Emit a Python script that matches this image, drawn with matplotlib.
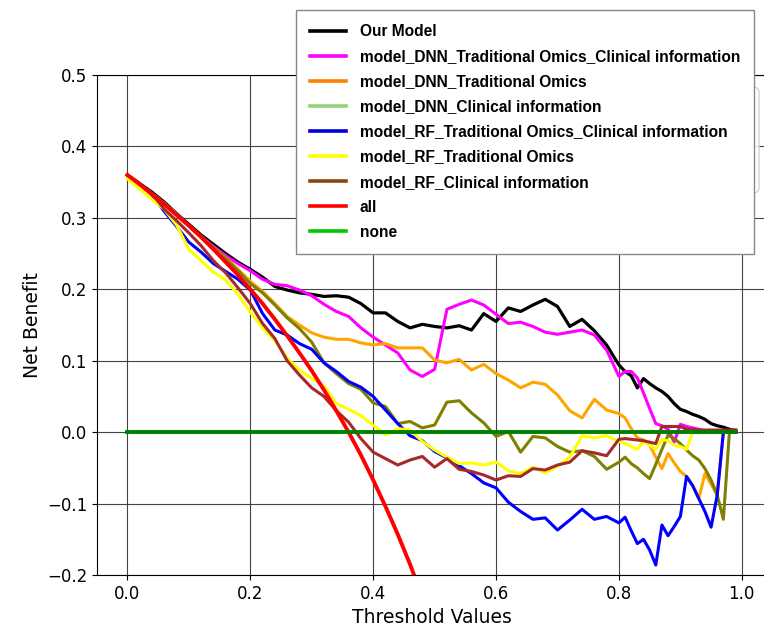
import matplotlib
matplotlib.use('Agg')
import matplotlib.pyplot as plt
from matplotlib.lines import Line2D
from matplotlib.patches import FancyBboxPatch

thresholds = [0.00, 0.02, 0.04, 0.06, 0.08, 0.10, 0.12, 0.14, 0.16, 0.18,
              0.20, 0.22, 0.24, 0.26, 0.28, 0.30, 0.32, 0.34, 0.36, 0.38,
              0.40, 0.42, 0.44, 0.46, 0.48, 0.50, 0.52, 0.54, 0.56, 0.58,
              0.60, 0.62, 0.64, 0.66, 0.68, 0.70, 0.72, 0.74, 0.76, 0.78,
              0.80, 0.81, 0.82, 0.83, 0.84, 0.85, 0.86, 0.87, 0.88, 0.89,
              0.90, 0.91, 0.92, 0.93, 0.94, 0.95, 0.96, 0.97, 0.98, 0.99]

our_model = [0.360, 0.348, 0.336, 0.322, 0.306, 0.291, 0.276, 0.263, 0.250, 0.238,
             0.228, 0.217, 0.204, 0.199, 0.195, 0.193, 0.190, 0.191, 0.189, 0.180,
             0.167, 0.167, 0.155, 0.146, 0.151, 0.148, 0.146, 0.149, 0.143, 0.166,
             0.155, 0.174, 0.169, 0.178, 0.186, 0.176, 0.148, 0.158, 0.142, 0.122,
             0.094, 0.085, 0.079, 0.062, 0.075, 0.068, 0.062, 0.057, 0.050, 0.040,
             0.032, 0.029, 0.025, 0.022, 0.018, 0.012, 0.009, 0.007, 0.004, 0.002]

dnn_omics_clin = [0.360, 0.347, 0.334, 0.320, 0.305, 0.289, 0.274, 0.260, 0.247, 0.236,
                  0.226, 0.214, 0.207, 0.205, 0.199, 0.191, 0.179, 0.169, 0.162, 0.146,
                  0.133, 0.122, 0.111, 0.087, 0.078, 0.088, 0.172, 0.179, 0.185, 0.178,
                  0.165, 0.152, 0.154, 0.148, 0.140, 0.137, 0.140, 0.143, 0.136, 0.115,
                  0.078, 0.085, 0.085, 0.076, 0.055, 0.033, 0.012, 0.009, 0.004, -0.014,
                  0.011, 0.008, 0.006, 0.004, 0.002, 0.002, 0.002, 0.002, 0.002, 0.002]

dnn_omics = [0.360, 0.347, 0.334, 0.320, 0.305, 0.289, 0.273, 0.258, 0.244, 0.228,
             0.211, 0.197, 0.180, 0.162, 0.150, 0.139, 0.133, 0.130, 0.130, 0.125,
             0.122, 0.124, 0.118, 0.118, 0.118, 0.101, 0.097, 0.102, 0.087, 0.095,
             0.082, 0.073, 0.062, 0.070, 0.067, 0.052, 0.030, 0.020, 0.046, 0.031,
             0.026, 0.020, 0.005, -0.008, -0.011, -0.018, -0.035, -0.051, -0.030, -0.043,
             -0.055, -0.062, -0.074, -0.093, -0.058, -0.073, -0.088, 0.000, 0.002, 0.003]

dnn_clin = [0.360, 0.347, 0.334, 0.320, 0.305, 0.289, 0.274, 0.258, 0.243, 0.226,
            0.208, 0.195, 0.178, 0.160, 0.145, 0.126, 0.097, 0.082, 0.068, 0.060,
            0.041, 0.036, 0.012, 0.015, 0.006, 0.010, 0.042, 0.044, 0.027, 0.013,
            -0.006, 0.001, -0.028, -0.006, -0.008, -0.020, -0.028, -0.026, -0.034, -0.052,
            -0.042, -0.035, -0.044, -0.050, -0.058, -0.065, -0.045, -0.024, -0.004, -0.009,
            -0.016, -0.025, -0.033, -0.039, -0.051, -0.067, -0.088, -0.122, 0.002, 0.003]

rf_omics_clin = [0.360, 0.348, 0.332, 0.309, 0.288, 0.266, 0.252, 0.236, 0.225, 0.214,
                 0.199, 0.166, 0.143, 0.136, 0.124, 0.116, 0.097, 0.085, 0.071, 0.063,
                 0.050, 0.031, 0.012, -0.005, -0.012, -0.027, -0.036, -0.047, -0.058, -0.071,
                 -0.078, -0.098, -0.111, -0.122, -0.120, -0.137, -0.123, -0.108, -0.122, -0.118,
                 -0.127, -0.119, -0.138, -0.156, -0.150, -0.165, -0.186, -0.130, -0.145, -0.132,
                 -0.118, -0.062, -0.075, -0.093, -0.111, -0.133, -0.088, 0.000, 0.002, 0.003]

rf_omics = [0.355, 0.340, 0.326, 0.312, 0.290, 0.256, 0.240, 0.224, 0.213, 0.193,
            0.168, 0.146, 0.128, 0.104, 0.087, 0.075, 0.065, 0.040, 0.032, 0.023,
            0.010, -0.004, 0.005, 0.003, -0.013, -0.025, -0.035, -0.044, -0.043, -0.046,
            -0.042, -0.054, -0.058, -0.049, -0.057, -0.048, -0.035, -0.005, -0.008, -0.005,
            -0.013, -0.016, -0.020, -0.024, -0.013, -0.018, -0.024, -0.010, -0.012, -0.018,
            -0.020, -0.024, 0.000, 0.001, 0.001, 0.001, 0.001, 0.001, 0.002, 0.003]

rf_clin = [0.360, 0.348, 0.334, 0.312, 0.296, 0.279, 0.261, 0.240, 0.223, 0.202,
           0.180, 0.152, 0.131, 0.100, 0.080, 0.062, 0.050, 0.030, 0.014, -0.009,
           -0.028, -0.037, -0.046, -0.039, -0.034, -0.049, -0.037, -0.052, -0.055, -0.060,
           -0.067, -0.061, -0.062, -0.051, -0.053, -0.046, -0.042, -0.026, -0.029, -0.033,
           -0.010, -0.009, -0.010, -0.011, -0.012, -0.014, -0.016, 0.008, 0.008, 0.008,
           0.008, 0.004, 0.004, 0.003, 0.003, 0.003, 0.003, 0.003, 0.003, 0.003]

all_thresholds = [0.00, 0.02, 0.04, 0.06, 0.08, 0.10, 0.12, 0.14, 0.16, 0.18,
                  0.20, 0.22, 0.24, 0.26, 0.28, 0.30, 0.32, 0.34, 0.36, 0.38,
                  0.40, 0.42, 0.44, 0.46, 0.48]
treat_all = [0.360, 0.347, 0.333, 0.319, 0.304, 0.289, 0.273, 0.256, 0.238, 0.220,
             0.200, 0.180, 0.158, 0.135, 0.111, 0.086, 0.059, 0.030, 0.000, -0.032,
             -0.067, -0.104, -0.143, -0.185, -0.231]

none_values = [0.0 for t in thresholds]

labels = ['Our Model', 'model_DNN_Traditional Omics_Clinical information',
          'model_DNN_Traditional Omics', 'model_DNN_Clinical information',
          'model_RF_Traditional Omics_Clinical information', 'model_RF_Traditional Omics',
          'model_RF_Clinical information', 'all', 'none']
legend_colors = ['black', 'magenta', '#ff8000', '#96d27a', '#0000dd', 'yellow',
                 '#8b4513', 'red', '#00c800']

fig = plt.figure(figsize=(7.64, 6.31), dpi=100)
ax = fig.add_axes([0.127, 0.0887, 0.8757, 0.7924])

ax.plot(thresholds, our_model, color='black', lw=2.3)
ax.plot(thresholds, dnn_omics_clin, color='magenta', lw=2.2)
ax.plot(thresholds, dnn_omics, color='orange', lw=2.2)
ax.plot(thresholds, dnn_clin, color='olive', lw=2.2)
ax.plot(thresholds, rf_omics_clin, color='blue', lw=2.2)
ax.plot(thresholds, rf_omics, color='yellow', lw=2.2)
ax.plot(thresholds, rf_clin, color='brown', lw=2.2)
ax.plot(all_thresholds, treat_all, color='red', lw=2.8)
ax.plot(thresholds, none_values, color='green', lw=2.8)

ax.set_xlim(-0.0495, 1.0395)
ax.set_ylim(-0.2, 0.5)
ax.set_xticks([0.0, 0.2, 0.4, 0.6, 0.8, 1.0])
ax.tick_params(labelsize=12)
ax.set_xlabel('Threshold Values', fontsize=13.5)
ax.set_ylabel('Net Benefit', fontsize=13.5)
ax.grid(True, color='#444444', lw=0.8)

# faint box of a hidden legend peeking out behind the real one
ghost = FancyBboxPatch((600 / 764, 1 - 193 / 631), 159 / 764, 106 / 631,
                       boxstyle='round,pad=0,rounding_size=0.008',
                       transform=fig.transFigure, facecolor='white', alpha=0.85,
                       edgecolor='#cccccc', lw=1, zorder=3)
fig.patches.append(ghost)

handles = [Line2D([0], [0], color=c, lw=2.6) for c in legend_colors]
leg = fig.legend(handles, labels, loc='upper left', bbox_to_anchor=(296 / 764, 1 - 10 / 631),
                 prop={'family': 'Liberation Sans', 'weight': 'bold', 'size': 11.2},
                 fancybox=False, framealpha=1, edgecolor='#888888', borderpad=0.9,
                 labelspacing=0.65, handlelength=2.3, handletextpad=0.9,
                 borderaxespad=0)
leg.set_zorder(5)

fig.savefig('out.png', dpi=100)
